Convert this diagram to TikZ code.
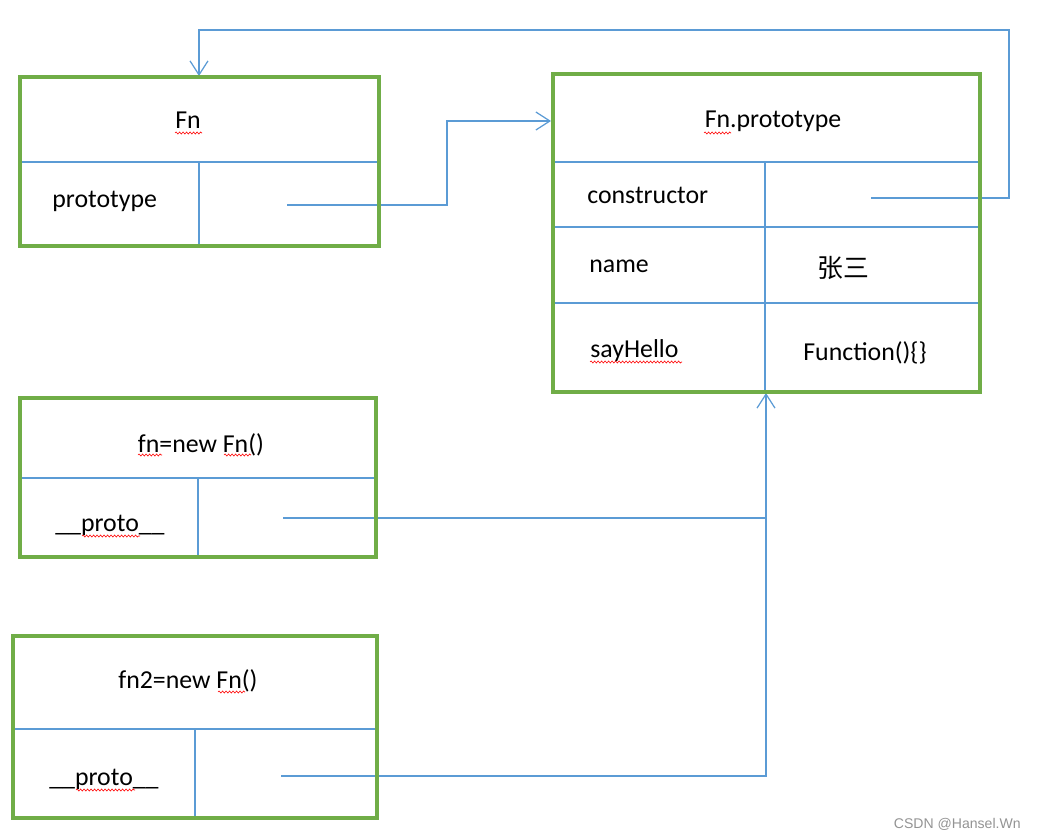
\documentclass[tikz,border=0pt]{standalone}
\usepackage{fontspec}
\setmainfont{Carlito}
\newfontfamily\cjk{Noto Sans CJK SC}
\newfontfamily\wmfont{Liberation Sans}
\usetikzlibrary{arrows.meta,decorations.pathmorphing}
\definecolor{boxgreen}{HTML}{70AD47}
\definecolor{linkblue}{HTML}{5B9BD5}

\begin{document}
\begin{tikzpicture}[x=0.02cm,y=-0.02cm,
  frame/.style={draw=boxgreen,line width=2pt},
  cell/.style={draw=linkblue,line width=0.6pt},
  link/.style={draw=linkblue,line width=0.7pt,-{Straight Barb[length=0.28cm,width=0.36cm]}},
  lbl/.style={inner sep=0pt,font=\fontsize{14.7}{17}\selectfont,anchor=base},
  squig/.style={draw=red,line width=0.35pt,decorate,decoration={snake,segment length=0.07cm,amplitude=0.02cm}}]
  \useasboundingbox (0,0) rectangle (1037,838);

  % cell dividers
  \draw[cell] (20,162) -- (379,162);
  \draw[cell] (199,162) -- (199,246);

  \draw[cell] (553,162) -- (980,162);
  \draw[cell] (553,227) -- (980,227);
  \draw[cell] (553,303) -- (980,303);
  \draw[cell] (765,161) -- (765,392);

  \draw[cell] (20,478) -- (376,478);
  \draw[cell] (198,478) -- (198,557);

  \draw[cell] (13,729) -- (377,729);
  \draw[cell] (195,729) -- (195,818);

  % links
  \coordinate (fnslot) at (287,205);
  \coordinate (protoin) at (551,121);
  \coordinate (ctorslot) at (871,198);
  \coordinate (fntop) at (199,76);
  \coordinate (objslot) at (283,518);
  \coordinate (join) at (766,518);
  \coordinate (obj2slot) at (281,776);
  \coordinate (protobot) at (766,393);

  \draw[link] (fnslot) -- (447,205) |- (protoin);
  \draw[link] (ctorslot) -- (1009,198) -- (1009,30) -| (fntop);
  \draw[cell] (objslot) -- (join);
  \draw[link] (obj2slot) -| (protobot);

  % boxes
  \draw[frame] (20,77) rectangle (379,246);
  \draw[frame] (553,74) rectangle (980,392);
  \draw[frame] (20,398) rectangle (376,557);
  \draw[frame] (13,636) rectangle (377,818);

  % texts
  \node[lbl] (fnname) at (188,129) {Fn};
  \node[lbl,anchor=base west] (fnproto) at (52,207) {prototype};

  \node[lbl] (pname) at (773,128) {Fn.prototype};
  \node[lbl,anchor=base west] (pctor) at (587,203) {constructor};
  \node[lbl,anchor=base west] (pnamekey) at (589,272) {name};
  \node[lbl] (pnameval) at (843,277) {\cjk 张三};
  \node[lbl,anchor=base west] (psay) at (590,357) {sayHello};
  \node[lbl,anchor=base west] (psayval) at (803,360) {Function()\{\}};

  \node[lbl] (objname) at (201,452) {fn=new Fn()};
  \node[lbl,anchor=base west] (objproto) at (55,531) {\_\_proto\_\_};

  \node[lbl] (obj2name) at (188,688) {fn2=new Fn()};
  \node[lbl,anchor=base west] (obj2proto) at (49,785) {\_\_proto\_\_};

  \node[anchor=base east,inner sep=0pt,text=gray!85,font=\wmfont\fontsize{8}{10}\selectfont] (mark) at (1021,828) {CSDN @Hansel.Wn};

  % spelling marks
  \draw[squig] (175,133) -- (202,133);
  \draw[squig] (704,133) -- (731,133);
  \draw[squig] (590,362) -- (682,362);
  \draw[squig] (138,455) -- (162,455);
  \draw[squig] (224,455) -- (251,455);
  \draw[squig] (82,536) -- (140,536);
  \draw[squig] (218,692) -- (245,692);
  \draw[squig] (76,790) -- (135,790);
\end{tikzpicture}
\end{document}
